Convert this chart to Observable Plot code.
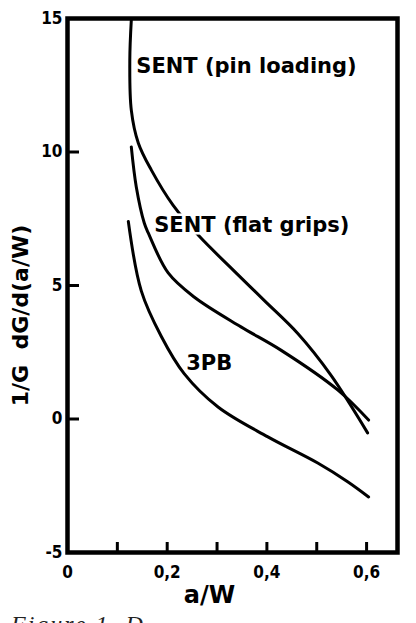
<!DOCTYPE html>
<html>
<head>
<meta charset="utf-8">
<script src="https://cdn.jsdelivr.net/npm/d3@7"></script>
<script src="https://cdn.jsdelivr.net/npm/@observablehq/plot@0.6"></script>
<style>
  html, body { margin: 0; padding: 0; background: white; overflow: hidden; width: 416px; height: 623px; }
  #wrap { position: relative; width: 416px; height: 623px; }
  #caption { position: absolute; left: 11px; top: 611px; font-family: "Liberation Serif", serif; font-style: italic; font-size: 24px; letter-spacing: 2px; color: #222; white-space: nowrap; }
</style>
</head>
<body>
<div id="wrap"><div id="caption">Figure 1. D</div></div>
<script>
// Series: a/W and 1/G dG/d(a/W)
const pinA = [0.128, 0.125, 0.128, 0.142, 0.168, 0.212, 0.264, 0.334, 0.394, 0.462, 0.528, 0.602];
const pinV = [14.94, 13.45, 11.57, 10.34, 9.33, 8.0, 6.85, 5.55, 4.45, 3.2, 1.65, -0.52];
const flatA = [0.128, 0.138, 0.154, 0.162, 0.202, 0.254, 0.348, 0.428, 0.542, 0.604];
const flatV = [10.19, 8.69, 7.34, 6.97, 5.47, 4.57, 3.45, 2.58, 1.09, -0.04];
const pbA = [0.122, 0.148, 0.188, 0.234, 0.302, 0.402, 0.502, 0.562, 0.604];
const pbV = [7.4, 4.8, 3.1, 1.7, 0.45, -0.67, -1.65, -2.35, -2.92];

// Curve labels (name, anchor in data coordinates)
const labelNames = ["SENT (pin loading)", "SENT (flat grips)", "3PB"];
const labelA = [0.138, 0.174, 0.238];
const labelV = [13.2, 7.27, 2.1];

// Tick marks and tick labels
const xTickVals = [0.1, 0.2, 0.3, 0.4, 0.5, 0.6];
const xLabelVals = [0, 0.2, 0.4, 0.6];
const xLabels = ["0", "0,2", "0,4", "0,6"];
const yTickVals = [10, 5, 0];
const yLabelVals = [15, 10, 5, 0, -5];
const yLabels = ["15", "10", "5", "0", "-5"];

const xTitle = "a/W";
const yTitle = "1/G  dG/d(a/W)";

const rows = [];
const add = (name, A, V) => A.forEach((a, i) => rows.push({series: name, a, v: V[i]}));
add("pin", pinA, pinV);
add("flat", flatA, flatV);
add("3pb", pbA, pbV);

const labels = labelNames.map((t, i) => ({text: t, a: labelA[i], v: labelV[i]}));
const xMap = new Map(xLabelVals.map((d, i) => [d, xLabels[i]]));
const yMap = new Map(yLabelVals.map((d, i) => [d, yLabels[i]]));

const font = "'DejaVu Sans', sans-serif";
const condensed = "'DejaVu Sans Condensed', 'DejaVu Sans', sans-serif";

const chart = Plot.plot({
  width: 416,
  height: 623,
  marginLeft: 67,
  marginRight: 19,
  marginTop: 18,
  marginBottom: 71,
  x: {domain: [0, 0.662]},
  y: {domain: [-5, 15]},
  style: {fontFamily: font, background: "white", color: "black"},
  marks: [
    Plot.axisX({ticks: xTickVals, tickSize: -10, strokeWidth: 3, tickFormat: () => "", label: null}),
    Plot.axisX({ticks: xLabelVals, tickSize: 0, tickPadding: 13, tickFormat: d => xMap.get(d), fontSize: 17, fontWeight: "bold", fontFamily: condensed, label: null}),
    Plot.axisY({ticks: yTickVals, tickSize: -12, strokeWidth: 3, tickFormat: () => "", label: null}),
    Plot.axisY({ticks: yLabelVals, tickSize: 0, tickPadding: 5, tickFormat: d => yMap.get(d), fontSize: 17, fontWeight: "bold", fontFamily: condensed, label: null}),
    Plot.line(rows, {x: "a", y: "v", z: "series", curve: "catmull-rom", stroke: "black", strokeWidth: 3}),
    Plot.text(labels, {x: "a", y: "v", text: "text", textAnchor: "start", fontSize: 21, fontWeight: "bold", fill: "black", stroke: "white", strokeWidth: 5}),
    Plot.frame({stroke: "black", strokeWidth: 4.5}),
    Plot.text([xTitle], {frameAnchor: "bottom", textAnchor: "middle", dy: 50, dx: -23, fontSize: 24, fontWeight: "bold", fill: "black"}),
    Plot.text([yTitle], {frameAnchor: "left", textAnchor: "middle", dx: -47, dy: 30, rotate: -90, fontSize: 22, fontWeight: "bold", fill: "black"})
  ]
});
chart.style.position = "absolute";
chart.style.left = "0";
chart.style.top = "0";
document.getElementById("wrap").prepend(chart);
</script>
</body>
</html>
